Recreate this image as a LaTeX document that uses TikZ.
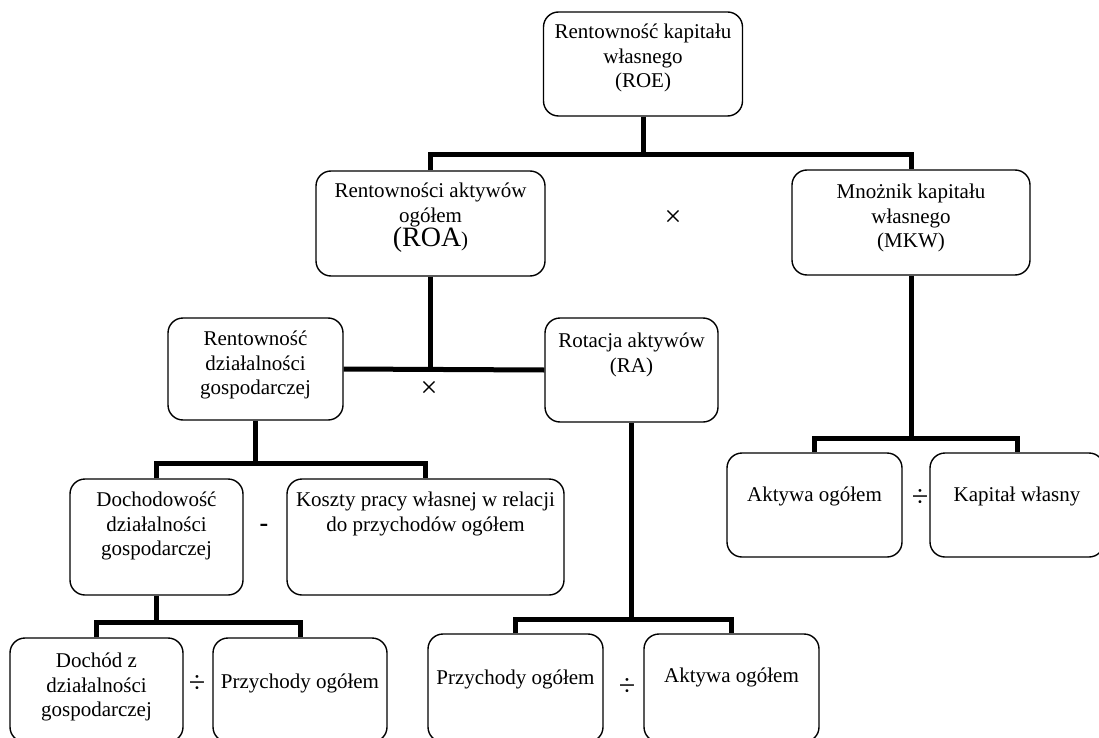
\documentclass[tikz,border=0pt]{standalone}
\usepackage{fontspec}
\setmainfont{Liberation Serif}
\tikzset{
  box/.style={draw, line width=1.4pt, rounded corners=15pt, rectangle, inner sep=0pt},
  txt/.style={align=center, inner sep=0pt, font=\fontsize{21}{24.5}\selectfont},
  conn/.style={line width=5pt, line join=miter},
  op/.style={inner sep=0pt, font=\fontsize{30}{30}\selectfont}
}
\begin{document}
\begin{tikzpicture}[x=1pt,y=-1pt]
\clip (0,0) rectangle (1099,738);
\fill[white] (0,0) rectangle (1099,738);
% boxes
\node[box, minimum width=199pt, minimum height=104pt] (roe) at (643,64) {};
\node[box, minimum width=229pt, minimum height=105pt] (roa) at (430.5,223.5) {};
\node[box, minimum width=238pt, minimum height=105pt] (mkw) at (911,222.5) {};
\node[box, minimum width=175pt, minimum height=102pt] (rdg) at (255.5,369) {};
\node[box, minimum width=173pt, minimum height=104pt] (ra) at (631.5,370) {};
\node[box, minimum width=173pt, minimum height=116pt] (ddg) at (156.5,537) {};
\node[box, minimum width=277pt, minimum height=116pt] (kpw) at (425.5,537) {};
\node[box, minimum width=173pt, minimum height=104pt] (dz) at (96.5,690) {};
\node[box, minimum width=174pt, minimum height=104pt] (po1) at (300,690) {};
\node[box, minimum width=175pt, minimum height=108pt] (po2) at (515.5,688) {};
\node[box, minimum width=175pt, minimum height=108pt] (ao2) at (731.5,688) {};
\node[box, minimum width=175pt, minimum height=104pt] (ao1) at (814.5,505) {};
\node[box, minimum width=174pt, minimum height=104pt] (kw) at (1017,505) {};
% texts
\node[txt] (roe-t) at (643,58) {Rentowność kapitału\\własnego\\(ROE)};
\node[txt] (roa-t) at (430.5,218) {Rentowności aktywów\\ogółem\\{\fontsize{28}{24.5}\selectfont(ROA}{)}};
\node[txt] (mkw-t) at (911,218) {Mnożnik kapitału\\własnego\\(MKW)};
\node[txt] (rdg-t) at (255.5,365) {Rentowność\\działalności\\gospodarczej};
\node[txt] (ra-t) at (631.5,355) {Rotacja aktywów\\(RA)};
\node[txt] (ddg-t) at (156.5,526) {Dochodowość\\działalności\\gospodarczej};
\node[txt] (kpw-t) at (425.5,514) {Koszty pracy własnej w relacji\\do przychodów ogółem};
\node[txt] (dz-t) at (96.5,687) {Dochód z\\działalności\\gospodarczej};
\node[txt] (po1-t) at (300,683) {Przychody ogółem};
\node[txt] (po2-t) at (515.5,679) {Przychody ogółem};
\node[txt] (ao2-t) at (731.5,677) {Aktywa ogółem};
\node[txt] (ao1-t) at (814.5,496) {Aktywa ogółem};
\node[txt] (kw-t) at (1017,496) {Kapitał własny};
% operators
\node[op] (x1) at (673,218) {×};
\node[op] (x2) at (429,389) {×};
\node[op, font=\fontsize{26}{26}\selectfont\bfseries] (m1) at (264,528) {-};
\node[op] (d1) at (197,684) {÷};
\node[op] (d2) at (627,687) {÷};
\node[op] (d3) at (920,498) {÷};
% connectors
\coordinate (j1) at (roe.south |- 0,155);
\draw[conn] (roe.south) -- (j1);
\draw[conn] (roa.north) |- (j1) -| (mkw.north);
\draw[conn] (roa.south) -- (roa.south |- rdg.east);
\draw[conn] (rdg.east) -- (ra.west);
\coordinate (j2) at (rdg.south |- 0,463);
\draw[conn] (rdg.south) -- (j2);
\draw[conn] (ddg.north) |- (j2) -| (kpw.north);
\coordinate (j3) at (ddg.south |- 0,622);
\draw[conn] (ddg.south) -- (j3);
\draw[conn] (dz.north) |- (j3) -| (po1.north);
\coordinate (j4) at (ra.south |- 0,619);
\draw[conn] (ra.south) -- (j4);
\draw[conn] (po2.north) |- (j4) -| (ao2.north);
\coordinate (j5) at (mkw.south |- 0,438);
\draw[conn] (mkw.south) -- (j5);
\draw[conn] (ao1.north) |- (j5) -| (kw.north);
\end{tikzpicture}
\end{document}
